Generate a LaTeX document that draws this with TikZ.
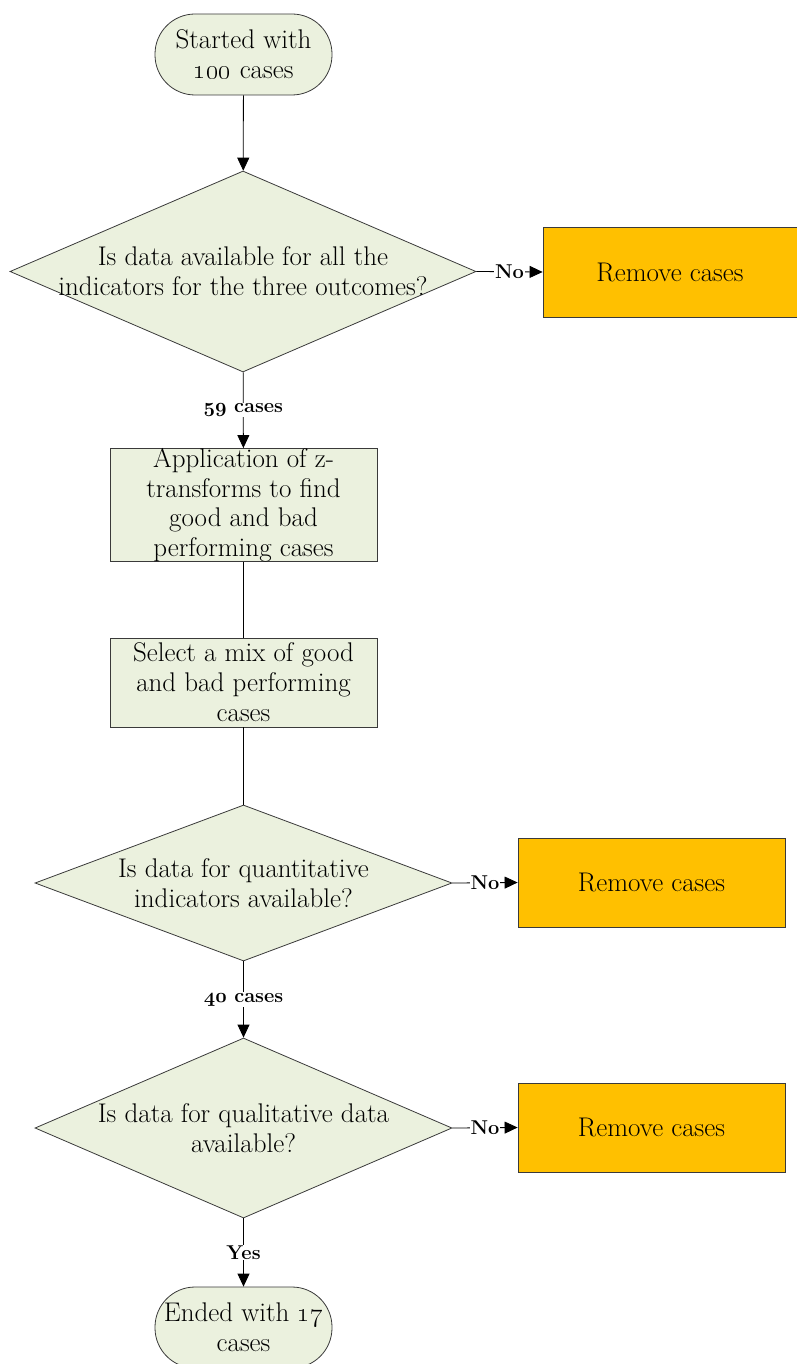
\RequirePackage{fix-cm}
\documentclass[tikz,border=0pt]{standalone}
\usetikzlibrary{arrows.meta,shapes.geometric}
\definecolor{paleolive}{HTML}{EBF1DE}
\definecolor{amber}{HTML}{FFC000}
\definecolor{edge}{HTML}{3A3A3A}
% bold old-style figures for the connector tags
\newcommand\boldoldnums[1]{{\fontencoding{OML}\fontfamily{cmm}\fontseries{b}\fontshape{it}\selectfont #1}}

\begin{document}
\begin{tikzpicture}[x=1pt,y=-1pt,
  every node/.style={font=\fontsize{27}{30}\selectfont},
  terminal/.style={draw=edge, fill=paleolive, line width=0.8pt, rounded corners=40pt,
    minimum width=177pt, minimum height=81pt, inner sep=0pt, align=center},
  process/.style={draw=edge, fill=paleolive, line width=0.8pt, minimum width=267pt,
    inner sep=0pt, align=center},
  decision/.style={draw=edge, fill=paleolive, line width=0.8pt, diamond, inner sep=0pt},
  caption/.style={align=center, inner sep=0pt},
  discard/.style={draw=edge, fill=amber, line width=0.8pt, minimum width=267pt,
    minimum height=89pt, inner sep=0pt},
  flow/.style={draw=black, line width=0.8pt},
  arrowflow/.style={flow, -{Triangle[length=13pt,width=12pt]}},
  tag/.style={fill=white, inner sep=0.8pt, font=\bfseries\fontsize{20}{23}\selectfont}
]
\useasboundingbox (0,0) rectangle (797,1364);

% start and end terminals
\node[terminal] (start) at (243.5,54.5) {Started with\\\oldstylenums{100} cases};
\node[terminal] (finish) at (243.5,1327.5) {Ended with \oldstylenums{17}\\cases};

% first check
\node[decision, minimum width=466pt, minimum height=201pt] (d1) at (243,271.5) {};
\node[caption] (d1t) at (d1) {Is data available for all the\\indicators for the three outcomes?};
\node[discard, minimum width=254pt, minimum height=90pt] (r1) at (670,272) {Remove cases};

% processing steps
\node[process, minimum height=112pt, font=\fontsize{27}{29.5}\selectfont] (zt) at (243.5,505)
  {Application of z-\\transforms to find\\good and bad\\performing cases};
\node[process, minimum height=89pt] (mix) at (243.5,682.5)
  {Select a mix of good\\and bad performing\\cases};

% second check
\node[decision, minimum width=417pt, minimum height=156pt] (d2) at (243.5,883) {};
\node[caption] (d2t) at (d2) {Is data for quantitative\\indicators available?};
\node[discard] (r2) at (651.5,882.5) {Remove cases};

% third check
\node[decision, minimum width=417pt, minimum height=180pt] (d3) at (243.5,1128) {};
\node[caption] (d3t) at (d3) {Is data for qualitative data\\available?};
\node[discard] (r3) at (651.5,1127.5) {Remove cases};

% connectors
\draw[arrowflow] (start) -- (d1);
\draw[arrowflow] (d1) -- node[tag] {\boldoldnums{59} cases} (zt);
\draw[flow] (zt) -- (mix);
\draw[flow] (mix) -- (d2);
\draw[arrowflow] (d2) -- node[tag] {\boldoldnums{40} cases} (d3);
\draw[arrowflow] (d3) -- node[tag] {Yes} (finish);

\draw[arrowflow] (d1.east) -- node[tag] {No} (r1.west);
\draw[arrowflow] (d2.east) -- node[tag] {No} (r2.west);
\draw[arrowflow] (d3.east) -- node[tag] {No} (r3.west);
\end{tikzpicture}
\end{document}
